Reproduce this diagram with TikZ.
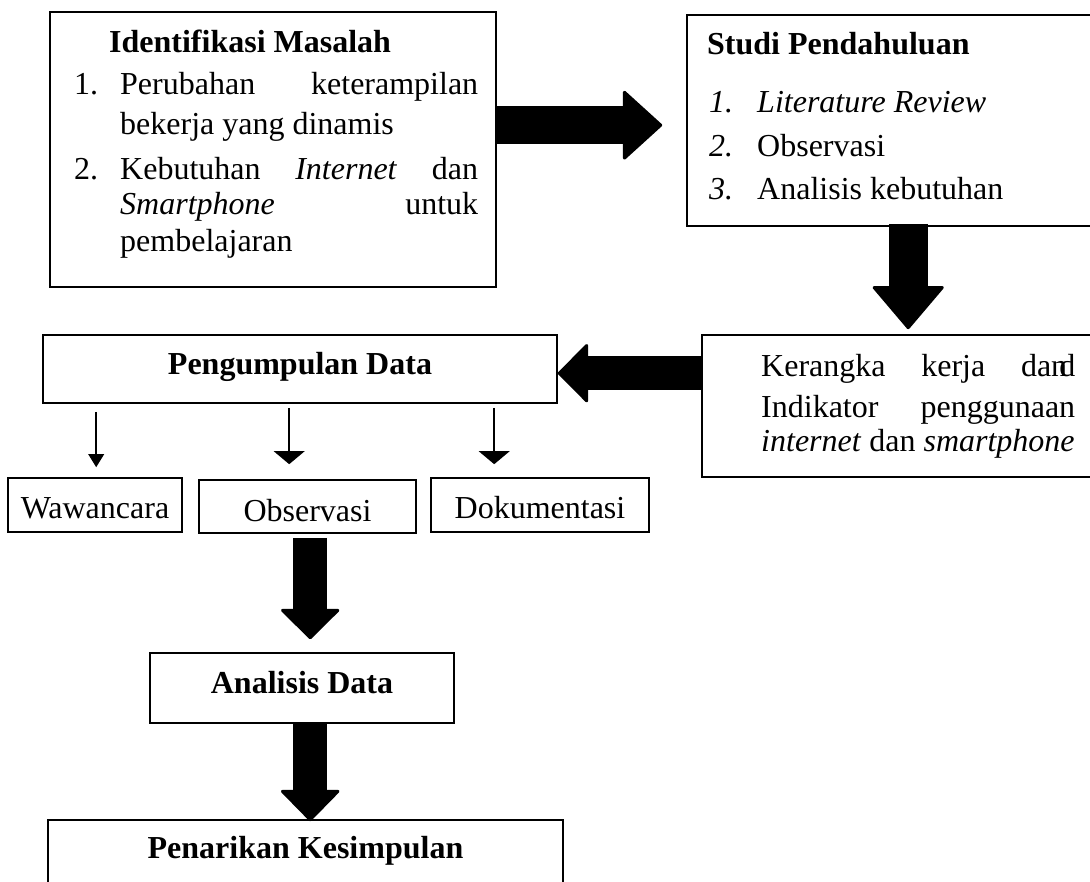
\documentclass[tikz,border=0pt]{standalone}
\usepackage{fontspec}
\setmainfont{Liberation Serif}
\usetikzlibrary{arrows.meta,calc}

\begin{document}
\begin{tikzpicture}[x=1pt,y=-1pt,
  box/.style={draw, line width=1.6pt, rectangle, inner sep=0pt},
  txt/.style={inner sep=0pt, anchor=base west, font=\fontsize{32}{38}\selectfont},
  ctxt/.style={txt, anchor=base},
  btxt/.style={txt, font=\fontsize{32}{38}\selectfont\bfseries},
  cbtxt/.style={btxt, anchor=base},
  fat/.style n args={3}{line width=#1pt,
    -{Triangle[width=#2pt,length=#3pt,line width=3pt,round]}},
  thinarr/.style={line width=1.5pt,
    -{Triangle[width=16pt,length=13pt,line width=0pt]}},
  medarr/.style={line width=2.5pt,
    -{Triangle[width=31pt,length=13pt,line width=0pt]}}
]
\useasboundingbox (0,0) rectangle (1090,882);
\clip (0,0) rectangle (1090,882);

% boxes
\node[box, minimum width=446pt, minimum height=275pt] (idm) at (273,149.5) {};
\node[box, minimum width=413pt, minimum height=211pt] (sp)  at (893.5,120.5) {};
\node[box, minimum width=398pt, minimum height=142pt] (kk)  at (901,406) {};
\node[box, minimum width=514pt, minimum height=68pt]  (pd)  at (300,369) {};
\node[box, minimum width=174pt, minimum height=54pt]  (ww)  at (95,505) {};
\node[box, minimum width=217pt, minimum height=53pt]  (ob)  at (307.5,506.5) {};
\node[box, minimum width=218pt, minimum height=54pt]  (dk)  at (540,505) {};
\node[box, minimum width=304pt, minimum height=70pt]  (an)  at (302,688) {};
\node[box, minimum width=515pt, minimum height=90pt]  (pk)  at (305.5,865) {};

% block arrows between stages
\draw[fat={38}{72}{40}] ($(idm.north east)+(0,114)$) -- ($(sp.north west)+(-24,111)$);
\draw[fat={39}{74}{44}] ($(sp.south west)+(222,-3)$) -- ($(kk.north west)+(207,-5)$);
\draw[fat={34}{62}{31}] ($(kk.north west)+(1,39)$) -- ($(pd.north east)+(0,39)$);
\draw[fat={34}{62}{31}] ($(ob.south west)+(112,4)$) -- ($(an.north west)+(161,-13)$);
\draw[fat={34}{62}{32}] ($(an.south west)+(161,0)$) -- ($(pk.north west)+(263,2)$);

% data collection branches
\draw[thinarr] ($(pd.south west)+(54,8)$) -- ($(ww.north west)+(89,-10)$);
\draw[medarr] ($(pd.south west)+(247,4)$) -- ($(ob.north west)+(91,-15)$);
\draw[medarr] ($(pd.south west)+(452,4)$) -- ($(dk.north west)+(64,-13)$);

% problem identification
\node[btxt] (t1) at (109,53) {Identifikasi Masalah};
\node[txt] (t1a) at (74,95) {1.};
\node[txt] (t1b) at (120,95) {\makebox[358pt][s]{Perubahan keterampilan}};
\node[txt] (t1c) at (120,135) {bekerja yang dinamis};
\node[txt] (t1d) at (74,180) {2.};
\node[txt] (t1e) at (120,180) {\makebox[358pt][s]{Kebutuhan \textit{Internet} dan}};
\node[txt] (t1f) at (120,215) {\makebox[358pt][s]{\textit{Smartphone} untuk}};
\node[txt] (t1g) at (120,252) {pembelajaran};

% preliminary study
\node[btxt] (t2) at (707,55) {Studi Pendahuluan};
\node[txt] (t2a) at (709,113) {\textit{1.}};
\node[txt] (t2b) at (757,113) {\textit{Literature Review}};
\node[txt] (t2c) at (709,157) {\textit{2.}};
\node[txt] (t2d) at (757,157) {Observasi};
\node[txt] (t2e) at (709,200) {\textit{3.}};
\node[txt] (t2f) at (757,200) {Analisis kebutuhan};

% framework
\node[txt] (t3a) at (761,377) {\makebox[314pt][s]{Kerangka kerja da\rlap{n}\kern0.25em d}};
\node[txt] (t3b) at (761,418) {\makebox[314pt][s]{Indikator penggunaan}};
\node[txt] (t3c) at (761,452) {\textit{internet} dan \textit{smartphone}};

% remaining labels
\node[cbtxt] (t4) at (300,375) {Pengumpulan Data};
\node[ctxt] (t5) at (95,518) {Wawancara};
\node[ctxt] (t6) at (307.5,521) {Observasi};
\node[ctxt] (t7) at (540,518) {Dokumentasi};
\node[cbtxt] (t8) at (302,693) {Analisis Data};
\node[cbtxt] (t9) at (305.5,858) {Penarikan Kesimpulan};
\end{tikzpicture}
\end{document}
